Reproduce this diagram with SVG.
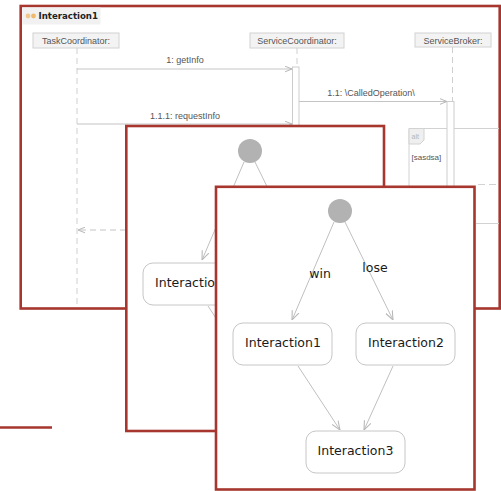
<svg xmlns="http://www.w3.org/2000/svg" width="501" height="491" viewBox="0 0 501 491">
  <style>
    .frame { fill: #ffffff; stroke: #a6362e; stroke-width: 2.6; }
    .head { fill: #f3f3f3; stroke: #d2d2d2; stroke-width: 1; }
    .seqtxt { font-family: "Liberation Sans", Arial, sans-serif; font-size: 9px; fill: #555555; }
    .life { stroke: #cfcfcf; stroke-width: 1; stroke-dasharray: 6 4; fill: none; }
    .msg { stroke: #c4c4c4; stroke-width: 1; fill: none; }
    .bar { fill: #ffffff; stroke: #cdcdcd; stroke-width: 1; }
    .state { fill: #ffffff; stroke: #c6c6c6; stroke-width: 1; }
    .stxt { font-family: "DejaVu Sans", Verdana, sans-serif; font-size: 12.5px; fill: #1a1a1a; text-anchor: middle; }
    .edge { stroke: #c0c0c0; stroke-width: 1; fill: none; }
    .init { fill: #b2b2b2; }
  </style>
  <defs>
    <marker id="arrow" viewBox="0 0 10 10" refX="10" refY="5" markerWidth="9" markerHeight="9" markerUnits="userSpaceOnUse" orient="auto">
      <path d="M0,1 L10,5 L0,9" fill="none" stroke="#b8b8b8" stroke-width="1.2"/>
    </marker>
    <marker id="arrowSmall" viewBox="0 0 10 10" refX="10" refY="5" markerWidth="7" markerHeight="7" markerUnits="userSpaceOnUse" orient="auto">
      <path d="M0,1 L10,5 L0,9" fill="none" stroke="#b0b0b0" stroke-width="1.3"/>
    </marker>
  </defs>

  <!-- stray frame edge at the left -->
  <line x1="0" y1="427.5" x2="52" y2="427.5" stroke="#a6362e" stroke-width="2.6"/>

  <!-- sequence diagram -->
  <g id="sequence">
    <rect class="frame" x="20.7" y="6" width="479" height="302.5"/>
    <g id="title">
      <rect x="22.5" y="7.5" width="78" height="17" fill="#f1f1f1"/>
      <circle cx="28" cy="16" r="2.4" fill="#f2c78a"/>
      <circle cx="33.5" cy="16" r="2.4" fill="#efb96e"/>
      <text x="38.5" y="19.3" font-family="DejaVu Sans, Verdana, sans-serif" font-size="8.6" font-weight="bold" fill="#222">Interaction1</text>
    </g>
    <g id="connectors-seq">
      <line class="life" x1="77" y1="48" x2="77" y2="307"/>
      <line class="life" x1="297" y1="48" x2="297" y2="67"/>
      <line class="life" x1="452.5" y1="47" x2="452.5" y2="101"/>
      <line class="msg" x1="77" y1="69" x2="292" y2="69" marker-end="url(#arrowSmall)"/>
      <line class="msg" x1="299" y1="101.5" x2="447" y2="101.5" marker-end="url(#arrowSmall)"/>
      <line class="msg" x1="77" y1="124" x2="292" y2="124" marker-end="url(#arrowSmall)"/>
      <line class="msg" x1="126" y1="230" x2="78" y2="230" stroke-dasharray="6 4" marker-end="url(#arrowSmall)"/>
      <text class="seqtxt" x="185" y="63" text-anchor="middle">1: getInfo</text>
      <text class="seqtxt" x="371" y="96" text-anchor="middle">1.1: \CalledOperation\</text>
      <text class="seqtxt" x="185" y="119" text-anchor="middle">1.1.1: requestInfo</text>
    </g>
    <g id="TaskCoordinator">
      <rect class="head" x="33" y="33" width="86" height="15"/>
      <text class="seqtxt" x="76" y="44" text-anchor="middle">TaskCoordinator:</text>
    </g>
    <g id="ServiceCoordinator">
      <rect class="head" x="250" y="33" width="94" height="15"/>
      <text class="seqtxt" x="297" y="44" text-anchor="middle">ServiceCoordinator:</text>
      <rect class="bar" x="292.5" y="67" width="6.5" height="80"/>
    </g>
    <g id="ServiceBroker">
      <rect class="head" x="415" y="33" width="76" height="14"/>
      <text class="seqtxt" x="453" y="43.5" text-anchor="middle">ServiceBroker:</text>
    </g>
    <g id="alt-fragment">
      <path d="M499,128.5 H409 V300 M476,223.5 H499" fill="none" stroke="#d2d2d2" stroke-width="1"/>
      <path d="M409,128.5 H424 V140 L420,144 H409 Z" fill="#efefef" stroke="#d2d2d2" stroke-width="1"/>
      <text x="411.5" y="139" font-family="Liberation Sans, Arial, sans-serif" font-size="7" fill="#b5b5b5">alt</text>
      <text x="411.5" y="159.5" font-family="Liberation Sans, Arial, sans-serif" font-size="8" fill="#555">[sasdsa]</text>
      <line x1="478" y1="184.5" x2="496" y2="184.5" stroke="#d2d2d2" stroke-width="1" stroke-dasharray="7 4"/>
    </g>
    <rect class="bar" x="447" y="101.5" width="7" height="200"/>
  </g>

  <!-- state machine, back copy -->
  <g id="states-back">
    <rect class="frame" x="126.3" y="126" width="257.7" height="305"/>
    <g id="connectors-back">
      <line class="edge" x1="244" y1="162" x2="202" y2="260" marker-end="url(#arrow)"/>
      <line class="edge" x1="255" y1="162" x2="303" y2="260" marker-end="url(#arrow)"/>
      <line class="edge" x1="208" y1="306" x2="250" y2="370" marker-end="url(#arrow)"/>
      <line class="edge" x1="303" y1="306" x2="274" y2="370" marker-end="url(#arrow)"/>
    </g>
    <g id="back-initial"><circle class="init" cx="250" cy="151" r="12"/></g>
    <g id="back-Interaction1">
      <rect class="state" x="143" y="263" width="99" height="42" rx="10"/>
      <text class="stxt" x="193" y="287">Interaction1</text>
    </g>
  </g>

  <!-- state machine, front copy -->
  <g id="states-front">
    <rect class="frame" x="216" y="186.8" width="258.5" height="302.7"/>
    <g id="connectors">
      <line class="edge" x1="334" y1="222" x2="292" y2="320" marker-end="url(#arrow)"/>
      <line class="edge" x1="345" y1="222" x2="393" y2="320" marker-end="url(#arrow)"/>
      <line class="edge" x1="298" y1="366" x2="340" y2="430" marker-end="url(#arrow)"/>
      <line class="edge" x1="393" y1="366" x2="364" y2="430" marker-end="url(#arrow)"/>
      <text class="stxt" x="320" y="278">win</text>
      <text class="stxt" x="375" y="271.5">lose</text>
    </g>
    <g id="initial"><circle class="init" cx="340" cy="211" r="12"/></g>
    <g id="Interaction1">
      <rect class="state" x="233" y="323" width="99" height="42" rx="10"/>
      <text class="stxt" x="283" y="347">Interaction1</text>
    </g>
    <g id="Interaction2">
      <rect class="state" x="356" y="323" width="99" height="42" rx="10"/>
      <text class="stxt" x="406" y="347">Interaction2</text>
    </g>
    <g id="Interaction3">
      <rect class="state" x="306" y="431" width="99" height="42" rx="10"/>
      <text class="stxt" x="355.5" y="455">Interaction3</text>
    </g>
  </g>
</svg>
